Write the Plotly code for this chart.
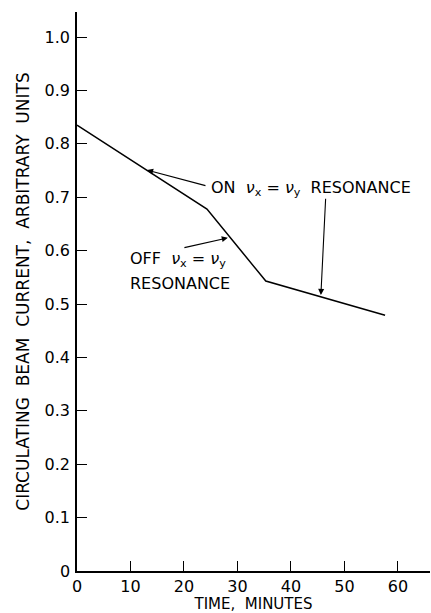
import plotly.graph_objects as go

time_min = [0, 24.3, 35.3, 57.6]
beam_current = [0.835, 0.678, 0.543, 0.479]

x_ticks = [0, 10, 20, 30, 40, 50, 60]
x_tick_labels = ["0", "10", "20", "30", "40", "50", "60"]
y_ticks = [0.1, 0.2, 0.3, 0.4, 0.5, 0.6, 0.7, 0.8, 0.9, 1.0]
y_tick_labels = ["0.1", "0.2", "0.3", "0.4", "0.5", "0.6", "0.7", "0.8", "0.9", "1.0"]

FONT = "DejaVu Sans"

fig = go.Figure()
fig.add_trace(go.Scatter(x=time_min, y=beam_current, mode="lines",
                         line=dict(color="black", width=1.5), showlegend=False))

nu = "<i>\u03bd</i>"
ann_font = dict(family=FONT, size=16, color="black")
arrow = dict(showarrow=True, arrowhead=2, arrowsize=1.1, arrowwidth=1.1,
             arrowcolor="black", axref="x", ayref="y", xref="x", yref="y")

fig.add_annotation(x=13.1, y=0.751, ax=24.3, ay=0.721, text="", **arrow)
fig.add_annotation(x=45.6, y=0.517, ax=46.5, ay=0.700, text="", **arrow)
fig.add_annotation(x=28.2, y=0.624, ax=19.8, ay=0.605, text="", **arrow)

fig.add_annotation(x=24.7, y=0.717, xref="x", yref="y", xanchor="left", yanchor="middle",
                   showarrow=False, font=ann_font,
                   text=f"ON  {nu}<sub>x</sub> = {nu}<sub>y</sub>  RESONANCE")
fig.add_annotation(x=9.6, y=0.583, xref="x", yref="y", xanchor="left", yanchor="middle",
                   showarrow=False, font=ann_font,
                   text=f"OFF  {nu}<sub>x</sub> = {nu}<sub>y</sub>")
fig.add_annotation(x=9.6, y=0.538, xref="x", yref="y", xanchor="left", yanchor="middle",
                   showarrow=False, font=ann_font, text="RESONANCE")
fig.add_annotation(x=-0.034, y=0.0, xref="paper", yref="y", xanchor="center", yanchor="middle",
                   showarrow=False, font=dict(family=FONT, size=16, color="black"), text="0")

fig.update_layout(
    width=431, height=613,
    margin=dict(l=77, r=1, t=12, b=42),
    paper_bgcolor="white", plot_bgcolor="white",
    font=dict(family=FONT, size=16, color="black"),
)
fig.update_xaxes(range=[0, 66], tickvals=x_ticks, ticktext=x_tick_labels,
                 ticks="inside", ticklen=10, tickwidth=1.2, tickcolor="black",
                 showline=True, linecolor="black", linewidth=1.5, showgrid=False,
                 zeroline=False, ticklabelstandoff=0,
                 title=dict(text="TIME,  MINUTES", standoff=4,
                            font=dict(family=FONT, size=15)))
fig.update_yaxes(range=[0, 1.047], tickvals=y_ticks, ticktext=y_tick_labels,
                 ticks="inside", ticklen=10, tickwidth=1.2, tickcolor="black",
                 showline=True, linecolor="black", linewidth=1.5, showgrid=False,
                 zeroline=False, ticklabelstandoff=2,
                 title=dict(text="CIRCULATING  BEAM  CURRENT,  ARBITRARY  UNITS", standoff=11,
                            font=dict(family=FONT, size=17)))

fig.write_html("out.html")
